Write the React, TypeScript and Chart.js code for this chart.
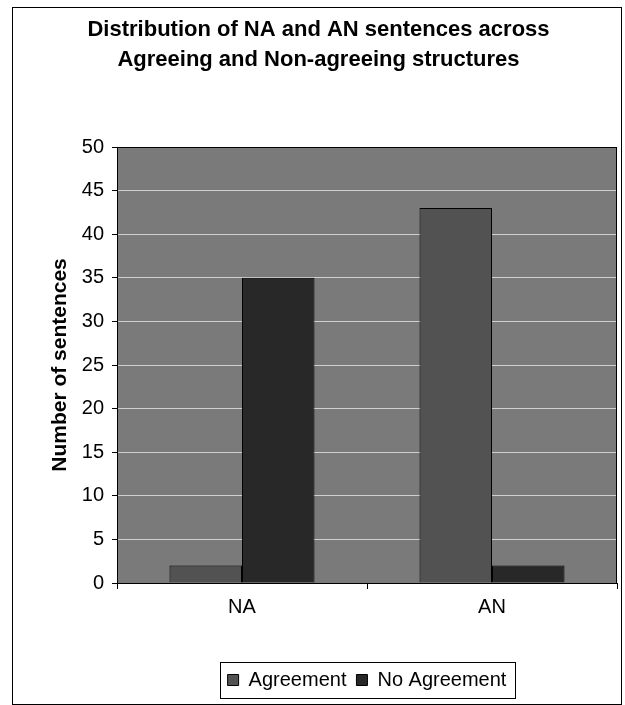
import { useEffect, useRef } from "react";
import { Chart, registerables } from "chart.js";

Chart.register(...registerables);

const categories = ["NA", "AN"];
const agreement = [2, 43];
const noAgreement = [35, 2];
const seriesNames = ["Agreement", "No Agreement"];
const titleLines = [
  "Distribution of NA and AN sentences across",
  "Agreeing and Non-agreeing structures",
];
const yAxisTitle = "Number of sentences";
const yMin = 0;
const yMax = 50;
const yStep = 5;

const FONT = "'Liberation Sans', Arial, sans-serif";

const decorPlugin = {
  id: "decor",
  beforeDraw(chart: any) {
    const { ctx, chartArea: a } = chart;
    ctx.save();
    ctx.fillStyle = "#ffffff";
    ctx.fillRect(0, 0, chart.width, chart.height);
    ctx.fillStyle = "#7a7a7a";
    ctx.fillRect(a.left, a.top, a.right - a.left, a.bottom - a.top);
    ctx.restore();
  },
  afterDatasetsDraw(chart: any) {
    const { ctx, chartArea: a } = chart;
    ctx.save();
    ctx.strokeStyle = "#000";
    ctx.lineWidth = 1;
    ctx.strokeRect(a.left + 0.5, a.top + 0.5, a.right - a.left - 1, a.bottom - a.top);
    ctx.restore();
  },
  afterDraw(chart: any) {
    const { ctx } = chart;
    ctx.save();
    ctx.strokeStyle = "#000";
    ctx.lineWidth = 1;
    // outer frame
    ctx.strokeRect(12.5, 7.5, 609, 697);
    // legend frame
    const boxes = chart.legend?.legendHitBoxes || [];
    if (boxes.length) {
      let l = Infinity, r = -Infinity, t = Infinity, b = -Infinity;
      boxes.forEach((h: any) => {
        l = Math.min(l, h.left);
        r = Math.max(r, h.left + h.width);
        t = Math.min(t, h.top);
        b = Math.max(b, h.top + h.height);
      });
      ctx.strokeRect(Math.round(l - 8) + 0.5, Math.round(t - 8) + 0.5, Math.round(r - l + 16), Math.round(b - t + 16));
    }
    ctx.restore();
  },
};

export default function App() {
  const ref = useRef<HTMLCanvasElement | null>(null);

  useEffect(() => {
    if (!ref.current) return;
    const chart = new Chart(ref.current, {
      type: "bar",
      data: {
        labels: categories,
        datasets: [
          {
            label: seriesNames[0],
            data: agreement,
            backgroundColor: "#525252",
            borderColor: "#000",
            borderWidth: 1,
            barPercentage: 1,
            categoryPercentage: 0.58,
          },
          {
            label: seriesNames[1],
            data: noAgreement,
            backgroundColor: "#282828",
            borderColor: "#000",
            borderWidth: 1,
            barPercentage: 1,
            categoryPercentage: 0.58,
          },
        ],
      },
      options: {
        animation: false,
        responsive: false,
        devicePixelRatio: 1,
        layout: { padding: { left: 20, right: 8, top: 10, bottom: 5 } },
        plugins: {
          title: {
            display: true,
            text: titleLines,
            color: "#000",
            font: { family: FONT, size: 22, weight: "bold", lineHeight: "30px" },
            padding: { top: 5, bottom: 72 },
          },
          legend: {
            display: true,
            position: "bottom",
            fullSize: false,
            labels: {
              color: "#000",
              font: { family: FONT, size: 20 },
              boxWidth: 11,
              boxHeight: 11,
              padding: 10,
            },
          },
          tooltip: { enabled: false },
        },
        scales: {
          x: {
            grid: {
              offset: true,
              drawOnChartArea: false,
              drawTicks: true,
              tickLength: 6,
              color: "#000",
            },
            border: { display: true, color: "#000" },
            ticks: {
              color: "#000",
              font: { family: FONT, size: 20 },
              padding: 6,
            },
            afterFit(scale: any) {
              scale.height = 77;
            },
          },
          y: {
            min: yMin,
            max: yMax,
            ticks: {
              stepSize: yStep,
              color: "#000",
              font: { family: FONT, size: 20 },
              padding: 8,
            },
            grid: {
              color: (c: any) => (c.tick && c.tick.value === 0 ? "#000" : "#cfcfcf"),
              tickColor: "#000",
              tickLength: 5,
              lineWidth: 1,
            },
            border: { display: true, color: "#000" },
            title: {
              display: true,
              text: yAxisTitle,
              color: "#000",
              font: { family: FONT, size: 21, weight: "bold" },
              padding: { top: 28, bottom: 0 },
            },
            afterFit(scale: any) {
              scale.width = 97;
            },
          },
        },
      },
      plugins: [decorPlugin],
    });
    return () => chart.destroy();
  }, []);

  return (
    <div style={{ position: "absolute", left: 0, top: 0, width: 625, height: 705 }}>
      <canvas ref={ref} width={625} height={705} style={{ display: "block" }} />
    </div>
  );
}
